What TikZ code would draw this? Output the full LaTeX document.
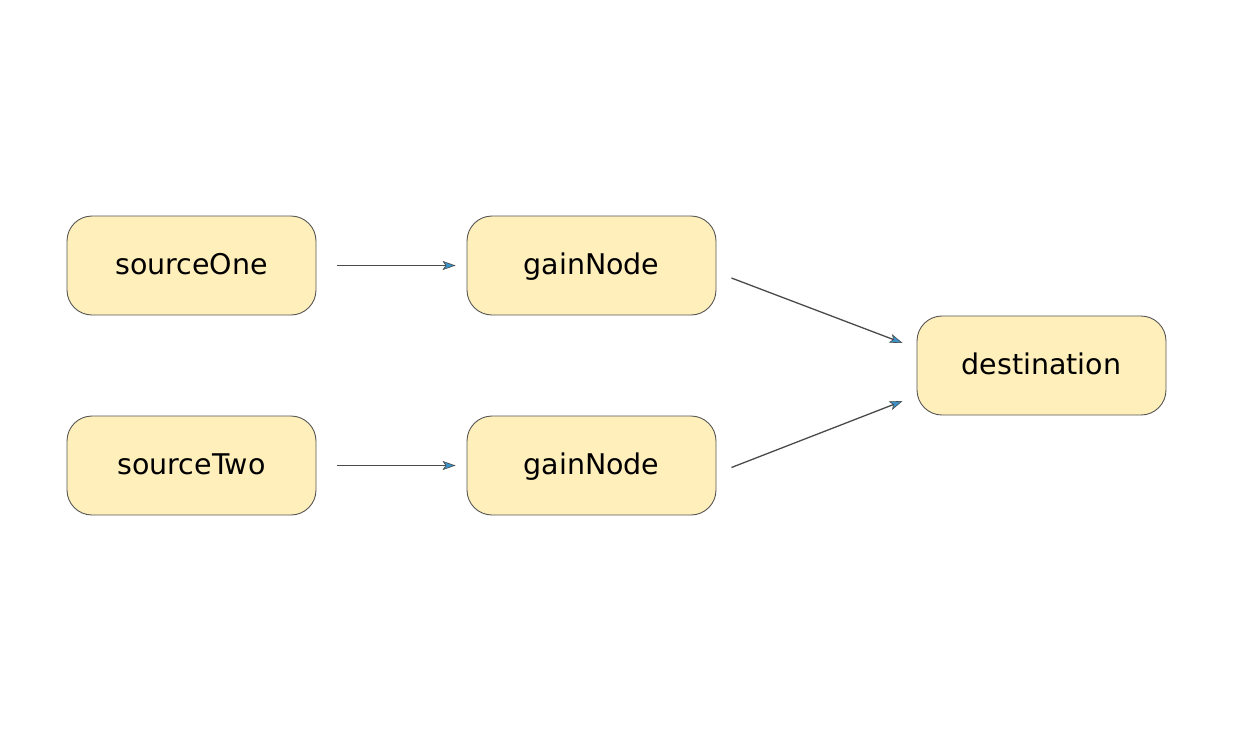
\documentclass[tikz,border=0pt]{standalone}
\usepackage{fontspec}
\setmainfont{DejaVu Sans}
\usetikzlibrary{arrows.meta,calc}
\definecolor{boxfill}{HTML}{FFEFBB}
\definecolor{boxline}{HTML}{555555}
\definecolor{wire}{HTML}{4A4A4A}
\definecolor{tipfill}{HTML}{3A92C8}
\tikzset{
  audionode/.style={draw=boxline, line width=0.9pt, fill=boxfill, rounded corners=25pt,
    minimum width=249pt, minimum height=99pt, inner sep=0pt,
    text height=22pt, text depth=5pt,
    font=\fontsize{28.5}{34}\selectfont},
  wirearrow/.style={draw=wire, line width=1.3pt,
    -{Stealth[length=13pt, width=9pt, inset=3pt, fill=tipfill, color=wire, line width=0.6pt]}}
}
\begin{document}
\begin{tikzpicture}[x=1pt, y=-1pt]
  \useasboundingbox (0,0) rectangle (1233,731);
  \node[audionode] (s1) at (191.5,265.5) {sourceOne};
  \node[audionode] (g1) at (591.5,265.5) {gainNode};
  \node[audionode] (s2) at (191.5,465.5) {sourceTwo};
  \node[audionode] (g2) at (591.5,465.5) {gainNode};
  \node[audionode] (dst) at (1041.5,365.5) {destination};
  % short horizontal links
  \draw[wirearrow, shorten <=21pt, shorten >=11pt] (s1.east) -- (g1.west);
  \draw[wirearrow, shorten <=21pt, shorten >=11pt] (s2.east) -- (g2.west);
  % slanted links into the destination
  \coordinate (a1) at ($(g1.east)+(15,12.5)$);
  \coordinate (b1) at ($(dst.west)+(-14,-22.5)$);
  \coordinate (a2) at ($(g2.east)+(15,2)$);
  \coordinate (b2) at ($(dst.west)+(-14,35.5)$);
  \draw[wirearrow] (a1) -- (b1);
  \draw[wirearrow] (a2) -- (b2);
\end{tikzpicture}
\end{document}
